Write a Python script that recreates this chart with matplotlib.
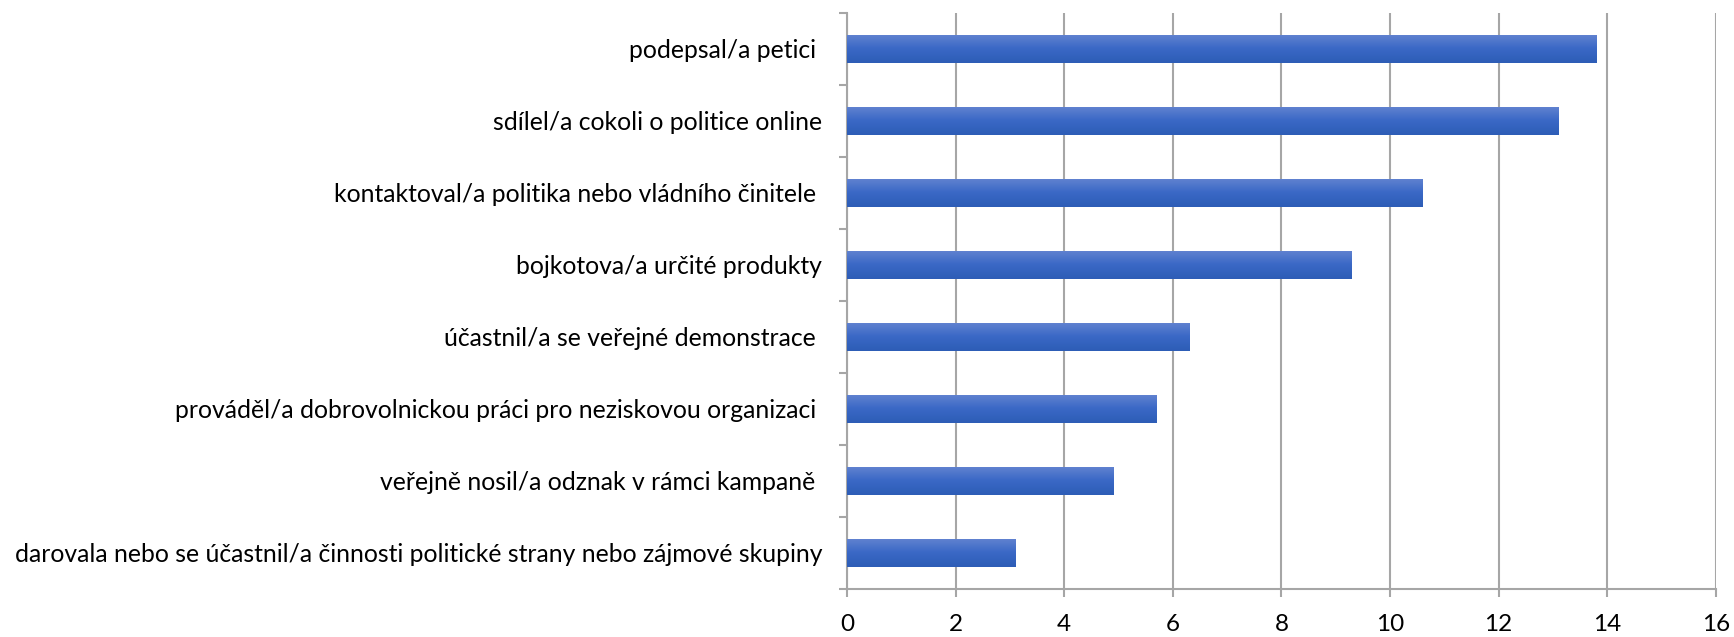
import numpy as np
import matplotlib
matplotlib.use('Agg')
from matplotlib import pyplot as plt

# data (top to bottom as shown)
labels = ['podepsal/a petici ',
          'sdílel/a cokoli o politice online',
          'kontaktoval/a politika nebo vládního činitele ',
          'bojkotova/a určité produkty',
          'účastnil/a se veřejné demonstrace ',
          'prováděl/a dobrovolnickou práci pro neziskovou organizaci ',
          'veřejně nosil/a odznak v rámci kampaně ',
          'darovala nebo se účastnil/a činnosti politické strany nebo zájmové skupiny']
values = [13.8, 13.1, 10.6, 9.3, 6.3, 5.7, 4.9, 3.1]
xticks = [0, 2, 4, 6, 8, 10, 12, 14, 16]

plt.rcParams['font.family'] = ['Lato', 'DejaVu Sans']
grid_c = '#a6a6a6'

fig = plt.figure(figsize=(17.34, 6.37), dpi=100)
ax = fig.add_axes([0.4885, 0.0754, 0.501, 0.9042])

ypos = np.arange(len(labels))
bars = ax.barh(ypos, values, height=0.4, color='#3b68c6', zorder=2)

# vertical gradient in each bar, light on top, darker at the bottom
grad = np.linspace(0, 1, 64).reshape(-1, 1)
cmap = matplotlib.colors.LinearSegmentedColormap.from_list('bg', ['#6283d0', '#3a68c6', '#2d5db6'])
for b in bars:
    x0, y0 = b.get_x(), b.get_y()
    w, h = b.get_width(), b.get_height()
    im = ax.imshow(grad, cmap=cmap, aspect='auto', extent=[x0, x0 + w, y0 + h, y0],
                   origin='upper', zorder=3)
    im.set_clip_path(b)

ax.set_xlim(0, 16)
ax.set_ylim(len(labels) - 0.5, -0.5)
ax.set_xticks(xticks)
ax.set_xticklabels([str(t) for t in xticks])
ax.set_yticks(ypos)
ax.set_yticklabels(labels)
ax.set_yticks(np.arange(len(labels) + 1) - 0.5, minor=True)

ax.grid(axis='x', color=grid_c, linewidth=1.5, zorder=0)
ax.set_axisbelow(True)
for s in ['top', 'right']:
    ax.spines[s].set_visible(False)
for s in ['left', 'bottom']:
    ax.spines[s].set_color(grid_c)
    ax.spines[s].set_linewidth(1.5)

ax.tick_params(axis='x', direction='out', length=6, width=1.5, color=grid_c,
               labelsize=17.5, pad=12, labelcolor='black')
ax.tick_params(axis='y', which='major', length=0, labelsize=17.8, pad=18, labelcolor='black')
ax.tick_params(axis='y', which='minor', direction='out', length=6, width=1.5, color=grid_c)

fig.savefig('out.png', dpi=100)
